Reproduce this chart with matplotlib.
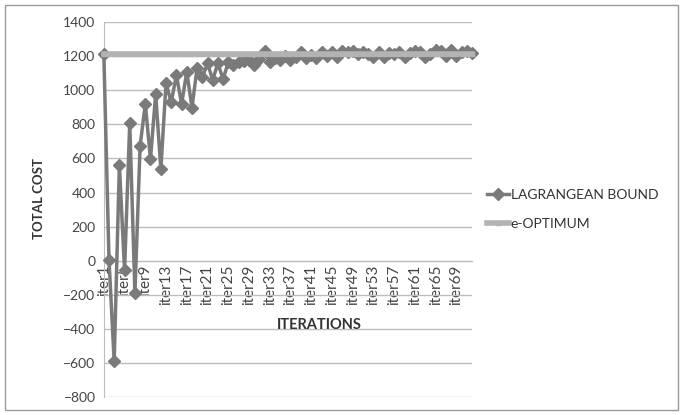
import matplotlib.pyplot as plt
from matplotlib.patches import Rectangle

plt.rcParams["font.family"] = ["Lato", "DejaVu Sans"]

iterations = [f"iter{i}" for i in range(1, 73)]

# lagrangean lower bound per iteration
lagrangean_bound = [
    1215, 5, -590, 563, -57, 809, -191, 675, 919, 596,
    978, 537, 1041, 929, 1089, 919, 1108, 898, 1132, 1075,
    1157, 1061, 1157, 1065, 1163, 1150, 1165, 1170, 1180, 1150,
    1185, 1230, 1165, 1190, 1177, 1200, 1177, 1195, 1226, 1187,
    1205, 1190, 1225, 1200, 1225, 1195, 1230, 1225, 1230, 1210,
    1225, 1215, 1195, 1225, 1195, 1220, 1210, 1225, 1195, 1220,
    1230, 1225, 1195, 1215, 1235, 1230, 1200, 1235, 1200, 1225,
    1230, 1220,
]
e_optimum = [1215] * 72

fig = plt.figure(figsize=(6.83, 4.15), dpi=100)
ax = fig.add_axes([0.152, 0.043, 0.539, 0.904])

for s in ("top", "right"):
    ax.spines[s].set_visible(False)
ax.spines["bottom"].set_position(("data", 0))
ax.spines["bottom"].set_color("#bdbdbd")
ax.spines["left"].set_color("#bdbdbd")

x = list(range(len(iterations)))
ax.plot(x, lagrangean_bound, color="#7a7a7a", lw=2.5, marker="D", ms=6,
        label="LAGRANGEAN BOUND", zorder=3, clip_on=False)
ax.plot(x, e_optimum, color="#b3b3b3", lw=4, marker="s", ms=3,
        label="e-OPTIMUM", zorder=4, clip_on=False)

ax.set_xlim(0, len(x) - 1)
ax.set_ylim(-800, 1400)
ax.set_yticks(range(-800, 1401, 200))
ax.yaxis.grid(True, color="#bdbdbd", lw=1)
ax.set_axisbelow(True)

ax.set_xticks(x[::4])
ax.set_xticklabels(iterations[::4], rotation=90, fontsize=11, color="#444444")
ax.tick_params(axis="x", length=0, pad=3)
ax.tick_params(axis="y", length=0, labelsize=10, labelcolor="#444444", pad=6)

ax.set_ylabel("TOTAL COST", fontsize=9.5, fontweight="bold", color="#333333")
ax.yaxis.set_label_coords(-0.16, 0.53)
ax.text(0.585, 0.192, "ITERATIONS", transform=ax.transAxes, ha="center",
        va="center", fontsize=10.5, fontweight="bold", color="#333333")

handles, labels = ax.get_legend_handles_labels()
fig.legend(handles, labels, loc="center left",
           bbox_to_anchor=(0.695, 0.495), frameon=False, fontsize=10,
           handlelength=1.6, handletextpad=0.1, labelspacing=1.2,
           labelcolor="#333333")

fig.patches.append(Rectangle((0.007, 0.012), 0.985, 0.976,
                             transform=fig.transFigure, fill=False,
                             edgecolor="#9a9a9a", lw=1))

fig.savefig("out.png", dpi=100)
